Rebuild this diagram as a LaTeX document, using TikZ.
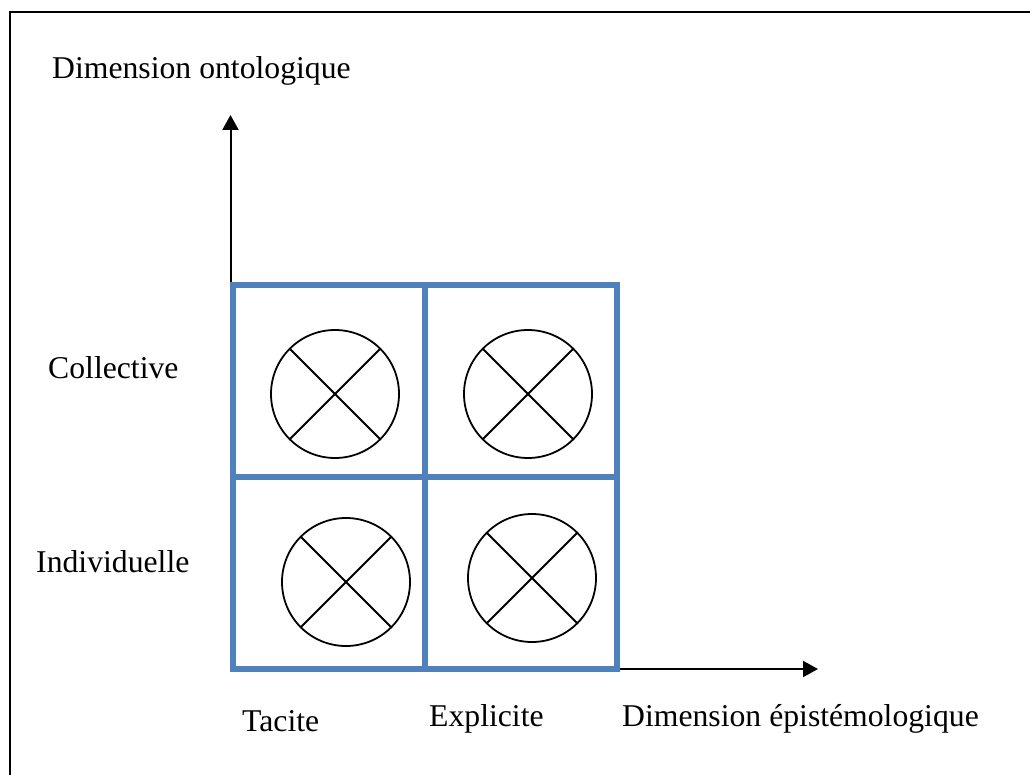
\documentclass[tikz,border=0pt]{standalone}
\usepackage{fontspec}
\setmainfont{Liberation Serif}
\usetikzlibrary{arrows.meta}
\definecolor{cellblue}{RGB}{79,129,189}
\begin{document}
\begin{tikzpicture}[x=1pt,y=-1pt,
  lbl/.style={anchor=base west,inner sep=0pt,font=\fontsize{31.7}{36}\selectfont},
  axis/.style={line width=2pt,-{Triangle[width=16pt,length=15pt]}},
  cell/.style={draw=cellblue,line width=6pt,minimum width=192pt,minimum height=192pt,inner sep=0pt,outer sep=0pt},
  knot/.style={draw,circle,line width=1.8pt,minimum size=128pt,inner sep=0pt,outer sep=0pt},
  cross/.style={line width=1.8pt}]
  \useasboundingbox (0,0) rectangle (1030,775);
  % outer frame (runs past the page on the right and bottom)
  \draw[line width=2pt] (10,12.5) rectangle (1045,790);

  % axes
  \coordinate (origin) at (230.5,669);
  \coordinate (ytip) at (230.5,115);
  \coordinate (xstart) at (620,669);
  \coordinate (xtip) at (818,669);
  \draw[axis] (origin) -- (ytip);
  \draw[axis] (xstart) -- (xtip);

  % the four cells
  \node[cell] (tl) at (328.5,381) {};
  \node[cell] (tr) at (521,381) {};
  \node[cell] (bl) at (329,573) {};
  \node[cell] (br) at (521,573) {};

  % crossed circles
  \foreach \n/\p in {ctl/{(335,394)},ctr/{(528,394)},cbl/{(346,582)},cbr/{(532,578)}}{
    \node[knot] (\n) at \p {};
    \draw[cross] (\n.45) -- (\n.225);
    \draw[cross] (\n.135) -- (\n.315);
  }

  % labels
  \node[lbl] (ont) at (52,79) {Dimension ontologique};
  \node[lbl] (coll) at (48,378) {Collective};
  \node[lbl] (indiv) at (36,572) {Individuelle};
  \node[lbl] (tac) at (242,731) {Tacite};
  \node[lbl] (expl) at (429,726.5) {Explicite};
  \node[lbl] (epi) at (622,726) {Dimension épistémologique};
\end{tikzpicture}
\end{document}
